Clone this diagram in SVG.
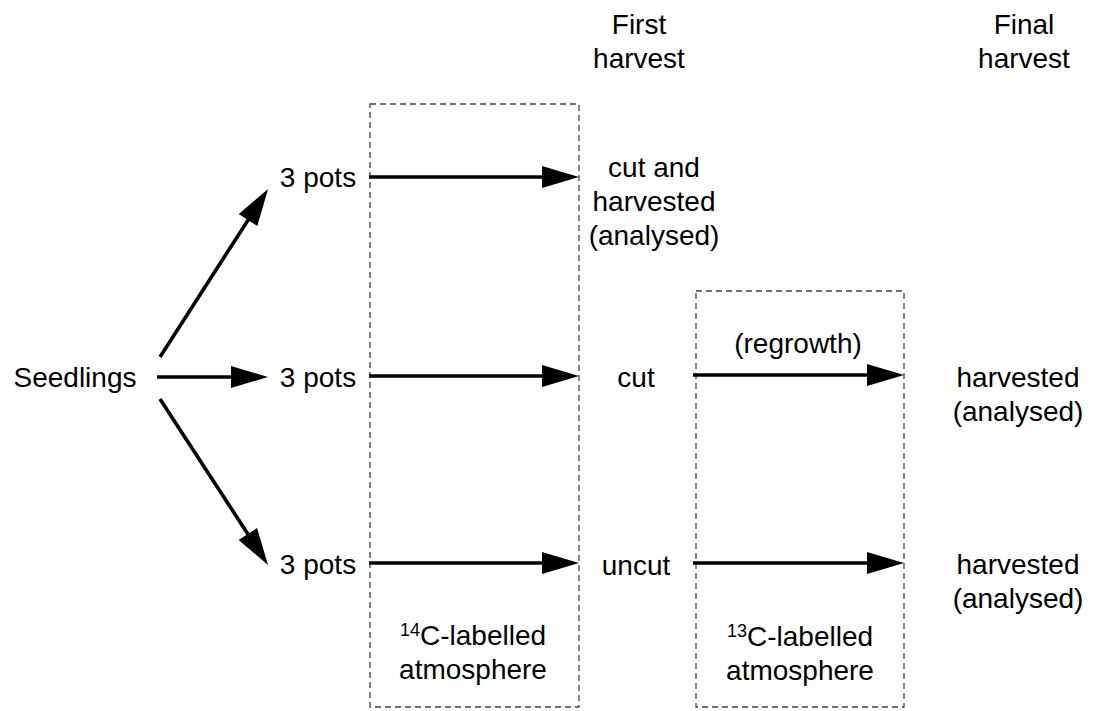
<svg xmlns="http://www.w3.org/2000/svg" width="1099" height="711" viewBox="0 0 1099 711">
<style>
text{font-family:"Liberation Sans",Arial,sans-serif;font-size:28px;fill:#000;text-anchor:middle}
.box{fill:none;stroke:#444;stroke-width:1.3;stroke-dasharray:6 4}
.arr{stroke:#000;stroke-width:3.6;fill:none;marker-end:url(#ah)}
.sup{font-size:18px}
</style>
<defs>
<marker id="ah" markerUnits="userSpaceOnUse" markerWidth="37" markerHeight="22" refX="6" refY="11" orient="auto" overflow="visible">
<path d="M0,0 L37,11 L0,22 z" fill="#000"/>
</marker>
</defs>
<rect width="1099" height="711" fill="#fff"/>
<g id="box14C">
<rect class="box" x="370" y="104" width="209" height="603"/>
<text x="473" y="645"><tspan class="sup" dy="-9">14</tspan><tspan dy="9">C-labelled</tspan></text>
<text x="473" y="679">atmosphere</text>
</g>
<g id="box13C">
<rect class="box" x="696" y="291" width="208" height="416"/>
<text x="800" y="646"><tspan class="sup" dy="-9">13</tspan><tspan dy="9">C-labelled</tspan></text>
<text x="800" y="680">atmosphere</text>
</g>
<g id="connectors">
<line class="arr" x1="160" y1="357" x2="251.3" y2="215"/>
<line class="arr" x1="157" y1="377" x2="237" y2="377"/>
<line class="arr" x1="160" y1="399" x2="251.1" y2="539"/>
<line class="arr" x1="369" y1="177" x2="548" y2="177"/>
<line class="arr" x1="369" y1="376" x2="548" y2="376"/>
<line class="arr" x1="369" y1="563" x2="548" y2="563"/>
<line class="arr" x1="693" y1="375" x2="873" y2="375"/>
<line class="arr" x1="693" y1="563" x2="873" y2="563"/>
</g>
<g id="seedlings"><text x="75" y="387">Seedlings</text></g>
<g id="pots1"><text x="318" y="187">3 pots</text></g>
<g id="pots2"><text x="318" y="387">3 pots</text></g>
<g id="pots3"><text x="318" y="574">3 pots</text></g>
<g id="firstHarvest"><text x="639" y="34">First</text><text x="639" y="68">harvest</text></g>
<g id="finalHarvest"><text x="1024" y="34">Final</text><text x="1024" y="68">harvest</text></g>
<g id="cutHarvested"><text x="654" y="177">cut and</text><text x="654" y="211">harvested</text><text x="654" y="245">(analysed)</text></g>
<g id="cut"><text x="636" y="387">cut</text></g>
<g id="uncut"><text x="636" y="575">uncut</text></g>
<g id="regrowth"><text x="798" y="353">(regrowth)</text></g>
<g id="harvested2"><text x="1018" y="387">harvested</text><text x="1018" y="421">(analysed)</text></g>
<g id="harvested3"><text x="1018" y="574">harvested</text><text x="1018" y="608">(analysed)</text></g>
</svg>
